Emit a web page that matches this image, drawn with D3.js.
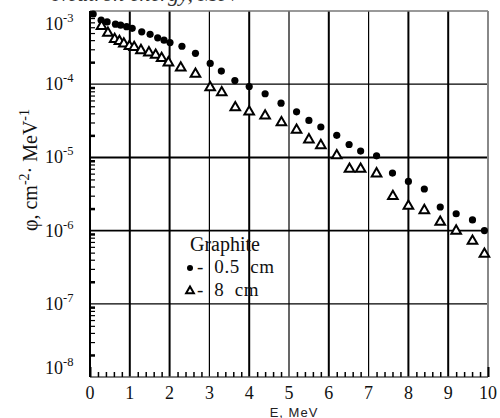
<!DOCTYPE html>
<html><head><meta charset="utf-8">
<script src="https://cdn.jsdelivr.net/npm/d3@7"></script>
<style>body{margin:0;background:#fff}svg{display:block}</style>
</head><body>
<svg id="c" width="500" height="418"></svg>
<script>
// ---- data ----
const energyThin = [0.08,0.28,0.43,0.64,0.77,0.92,1.06,1.30,1.51,1.70,1.86,2.01,2.31,2.65,3.02,3.30,3.64,4.00,4.40,4.80,5.19,5.50,5.80,6.20,6.51,6.80,7.20,7.60,8.00,8.40,8.80,9.20,9.61,9.91];
const fluxThin = [9.1e-4,7.5e-4,7.1e-4,6.6e-4,6.4e-4,6.1e-4,5.8e-4,5.2e-4,4.8e-4,4.3e-4,4.0e-4,3.7e-4,3.3e-4,2.64e-4,1.92e-4,1.51e-4,1.12e-4,9.3e-5,7.4e-5,5.5e-5,4.2e-5,3.2e-5,2.6e-5,2.0e-5,1.5e-5,1.22e-5,1.05e-5,6.1e-6,4.7e-6,3.7e-6,2.1e-6,1.7e-6,1.4e-6,1.0e-6];
const energyThick = [0.29,0.45,0.62,0.74,0.85,0.99,1.11,1.28,1.48,1.65,1.80,1.97,2.28,2.65,3.02,3.31,3.65,4.00,4.40,4.81,5.19,5.50,5.80,6.20,6.52,6.80,7.20,7.61,8.00,8.40,8.80,9.20,9.61,9.91];
const fluxThick = [6.2e-4,5.0e-4,4.1e-4,3.85e-4,3.57e-4,3.3e-4,3.2e-4,2.9e-4,2.7e-4,2.5e-4,2.26e-4,1.97e-4,1.68e-4,1.38e-4,9.0e-5,7.7e-5,4.8e-5,4.2e-5,3.7e-5,3.0e-5,2.37e-5,1.75e-5,1.46e-5,1.06e-5,6.95e-6,6.95e-6,6.0e-6,2.94e-6,2.17e-6,1.89e-6,1.31e-6,9.9e-7,7.2e-7,4.8e-7];
const xTickLabels = ["0","1","2","3","4","5","6","7","8","9","10"];
const yTickExponents = [-3,-4,-5,-6,-7,-8];
const legendTitle = "Graphite";
const legendLabels = ["- 0.5 cm","- 8 cm"];
const xTitle = "E, MeV";
const topText = "Neutron energy, MeV";

// ---- layout ----
const svg = d3.select("#c");
const L = 90, R = 488, T = 11, B = 377;
const x = d3.scaleLinear().domain([0,10]).range([L,R]);
const y = d3.scaleLog().domain([1e-8,1e-3]).range([B,T]);
const serif = "'Liberation Serif','Times New Roman',serif";

// cut-off text at top (only its lower edge is inside the picture)
svg.append("text").attr("x",240).attr("y",1).attr("text-anchor","end")
  .attr("font-family",serif).attr("font-size",22).attr("font-style","italic").attr("fill","#333").text(topText);

// gridlines vertical
const thickV = new Set([1,2,4,6,8,9]);
svg.append("g").selectAll("line").data(d3.range(1,10)).join("line")
  .attr("x1",d=>x(d)).attr("x2",d=>x(d)).attr("y1",T).attr("y2",B)
  .attr("stroke","#000").attr("stroke-width",d=>thickV.has(d)?2:1.2);
// gridlines horizontal
const hw = {"-4":1.3,"-5":2,"-6":1.6,"-7":1.3};
svg.append("g").selectAll("line").data([-4,-5,-6,-7]).join("line")
  .attr("x1",L).attr("x2",R).attr("y1",d=>y(Math.pow(10,d))).attr("y2",d=>y(Math.pow(10,d)))
  .attr("stroke","#000").attr("stroke-width",d=>hw[d]);

// frame
svg.append("line").attr("x1",L).attr("x2",R).attr("y1",T).attr("y2",T).attr("stroke","#777").attr("stroke-width",1.5);
svg.append("line").attr("x1",R).attr("x2",R).attr("y1",T).attr("y2",B).attr("stroke","#888").attr("stroke-width",2);
svg.append("line").attr("x1",L).attr("x2",R).attr("y1",B).attr("y2",B).attr("stroke","#555").attr("stroke-width",1.5);
svg.append("line").attr("x1",L).attr("x2",L).attr("y1",T).attr("y2",B).attr("stroke","#000").attr("stroke-width",2);

// minor ticks left (inside)
const minorY = [];
for (let k=-8;k<-3;k++) for (let m=2;m<=9;m++) minorY.push(m*Math.pow(10,k));
const yAx = svg.append("g").attr("transform",`translate(${L},0)`)
  .call(d3.axisRight(y).tickValues(minorY).tickSize(5).tickFormat(""));
yAx.select(".domain").remove();
yAx.selectAll("line").attr("stroke","#000").attr("stroke-width",d=>{
  const m = Math.round(d/Math.pow(10,Math.floor(Math.log10(d)+1e-9)));
  return (m===2||m===9)?2.5:1.2;});

// minor ticks bottom (inside)
const minorX = d3.range(0,51).map(i=>i/5).filter(v=>Math.abs(v-Math.round(v))>1e-6);
const xAx = svg.append("g").attr("transform",`translate(0,${B})`)
  .call(d3.axisTop(x).tickValues(minorX).tickSize(5).tickFormat(""));
xAx.select(".domain").remove();
xAx.selectAll("line").attr("stroke","#000").attr("stroke-width",1.5);
const xMaj = svg.append("g").attr("transform",`translate(0,${B})`)
  .call(d3.axisTop(x).tickValues([0,10]).tickSize(10).tickFormat(""));
xMaj.select(".domain").remove();
xMaj.selectAll("line").attr("stroke","#000").attr("stroke-width",2);

// x tick labels
svg.append("g").selectAll("text").data(xTickLabels).join("text")
  .attr("x",(d,i)=>x(i)).attr("y",399).attr("text-anchor","middle")
  .attr("font-family",serif).attr("font-size",18).attr("fill","#111").text(d=>d);

// y tick labels
const yl = svg.append("g").selectAll("text").data(yTickExponents).join("text")
  .attr("x",45).attr("y",d=>Math.max(24,Math.min(368,y(Math.pow(10,d))))+6)
  .attr("font-family",serif).attr("font-size",18).attr("fill","#111");
yl.append("tspan").text("10");
yl.append("tspan").attr("dy",-8).attr("font-size",12.5).text(d=>String(d));

// y title
const yt = svg.append("text").attr("transform","translate(37,170) rotate(-90)")
  .attr("text-anchor","middle").attr("font-family",serif).attr("font-size",20).attr("fill","#111");
yt.append("tspan").text("φ, cm");
yt.append("tspan").attr("dy",-8).attr("font-size",14).text("-2");
yt.append("tspan").attr("dy",8).text("· MeV");
yt.append("tspan").attr("dy",-8).attr("font-size",14).text("-1");

// x title
svg.append("text").attr("x",294).attr("y",417).attr("text-anchor","middle")
  .attr("font-family","'Liberation Sans',Arial,sans-serif").attr("font-size",13).attr("letter-spacing",1)
  .attr("fill","#222").text(xTitle);

// data
const thin = energyThin.map((e,i)=>[e,fluxThin[i]]);
const thick = energyThick.map((e,i)=>[e,fluxThick[i]]);
svg.append("g").selectAll("circle").data(thin).join("circle")
  .attr("cx",d=>x(d[0])).attr("cy",d=>y(d[1])).attr("r",3.6).attr("fill","#000");
const tri = d3.symbol().type(d3.symbolTriangle).size(40);
svg.append("g").selectAll("path").data(thick).join("path")
  .attr("d",tri).attr("transform",d=>`translate(${x(d[0])},${y(d[1])})`)
  .attr("fill","#fff").attr("stroke","#000").attr("stroke-width",2);

// legend (no background: gridlines run through it, as in the reference)
svg.append("text").attr("x",190).attr("y",251).attr("font-family",serif).attr("font-size",20).attr("fill","#111").text(legendTitle);
svg.append("circle").attr("cx",190).attr("cy",268).attr("r",3).attr("fill","#000");
svg.append("path").attr("d",d3.symbol().type(d3.symbolTriangle).size(26)).attr("transform","translate(190,291)")
  .attr("fill","#fff").attr("stroke","#000").attr("stroke-width",2);
svg.append("g").selectAll("text").data(legendLabels).join("text")
  .attr("x",197).attr("y",(d,i)=>273+i*23).attr("font-family",serif).attr("font-size",19)
  .attr("letter-spacing",0.6).attr("word-spacing",5).attr("fill","#111").text(d=>d);
</script>
</body></html>
